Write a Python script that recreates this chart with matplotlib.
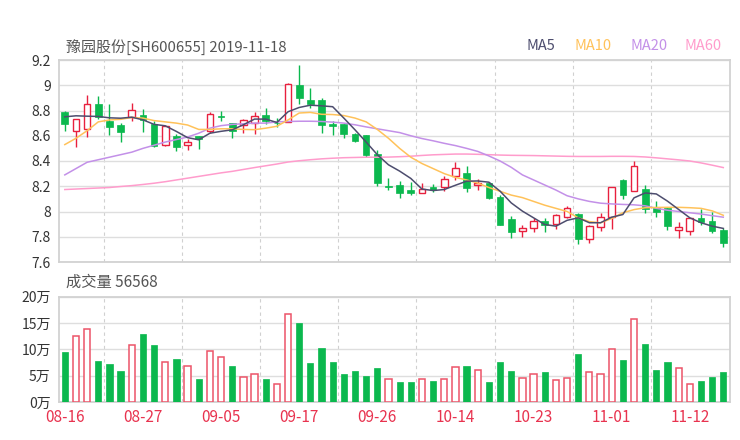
import matplotlib
matplotlib.use("Agg")
import matplotlib.pyplot as plt

plt.rcParams['font.family'] = ['Noto Sans CJK SC', 'DejaVu Sans']

title = "豫园股份[SH600655] 2019-11-18"
vol_title = "成交量 56568"

# 60 trading days, labels every 7th bar
tick_labels = ["08-16", "08-27", "09-05", "09-17", "09-26", "10-14", "10-23", "11-01", "11-12"]

opens = [8.792, 8.639, 8.65, 8.853, 8.713, 8.682, 8.747, 8.763, 8.695, 8.529,
         8.595, 8.529, 8.60, 8.639, 8.751, 8.70, 8.684, 8.70, 8.763, 8.70,
         8.705, 9.0, 8.884, 8.884, 8.695, 8.695, 8.616, 8.605, 8.455, 8.198,
         8.213, 8.174, 8.147, 8.192, 8.197, 8.279, 8.303, 8.21, 8.224, 8.113,
         7.937, 7.845, 7.871, 7.924, 7.903, 7.958, 7.982, 7.779, 7.879, 7.958,
         8.25, 8.166, 8.182, 8.034, 8.026, 7.855, 7.845, 7.945, 7.924, 7.85]
highs = [8.80, 8.735, 8.924, 8.911, 8.85, 8.70, 8.861, 8.813, 8.718, 8.676,
         8.616, 8.574, 8.60, 8.787, 8.80, 8.703, 8.734, 8.792, 8.818, 8.744,
         9.018, 9.16, 8.98, 8.897, 8.718, 8.695, 8.62, 8.605, 8.484, 8.264,
         8.245, 8.232, 8.226, 8.218, 8.279, 8.389, 8.358, 8.255, 8.232, 8.134,
         7.968, 7.897, 7.95, 7.95, 7.982, 8.042, 7.989, 7.897, 7.987, 8.197,
         8.26, 8.403, 8.208, 8.082, 8.037, 7.918, 7.95, 8.016, 7.997, 7.866]
lows = [8.639, 8.511, 8.589, 8.729, 8.608, 8.553, 8.713, 8.629, 8.51, 8.521,
        8.482, 8.489, 8.497, 8.624, 8.713, 8.582, 8.624, 8.613, 8.695, 8.672,
        8.705, 8.85, 8.818, 8.621, 8.603, 8.582, 8.55, 8.429, 8.20, 8.172,
        8.103, 8.134, 8.147, 8.153, 8.16, 8.253, 8.153, 8.171, 8.10, 7.892,
        7.792, 7.797, 7.837, 7.839, 7.863, 7.95, 7.739, 7.75, 7.845, 7.863,
        8.10, 8.166, 7.989, 7.96, 7.853, 7.789, 7.81, 7.89, 7.832, 7.718]
closes = [8.697, 8.732, 8.85, 8.75, 8.666, 8.626, 8.80, 8.726, 8.516, 8.674,
          8.508, 8.55, 8.574, 8.771, 8.751, 8.639, 8.727, 8.76, 8.718, 8.70,
          9.01, 8.897, 8.853, 8.682, 8.679, 8.613, 8.555, 8.45, 8.226, 8.198,
          8.147, 8.15, 8.179, 8.171, 8.26, 8.342, 8.187, 8.225, 8.108, 7.897,
          7.839, 7.866, 7.924, 7.897, 7.971, 8.024, 7.779, 7.889, 7.958, 8.192,
          8.129, 8.361, 8.016, 7.997, 7.884, 7.874, 7.945, 7.918, 7.845, 7.747]
# volume in 万 (10k)
volumes = [9.4, 12.5, 13.8, 7.7, 7.2, 5.8, 10.9, 12.9, 10.9, 7.5,
           8.2, 6.8, 4.3, 9.7, 8.5, 6.8, 4.8, 5.4, 4.4, 3.4,
           16.6, 14.9, 7.3, 10.2, 7.6, 5.4, 5.8, 4.9, 6.4, 4.4,
           3.8, 3.8, 4.4, 4.0, 4.3, 6.6, 6.8, 6.0, 3.7, 7.6,
           5.8, 4.5, 5.4, 5.7, 4.2, 4.5, 9.05, 5.7, 5.3, 10.1,
           8.0, 15.7, 10.95, 6.0, 7.66, 6.4, 3.5, 3.9, 4.7, 5.66]

ma5 = [8.75, 8.758, 8.755, 8.753, 8.742, 8.739, 8.747, 8.726, 8.69, 8.679,
       8.634, 8.585, 8.568, 8.62, 8.635, 8.647, 8.687, 8.732, 8.732, 8.705,
       8.79, 8.824, 8.842, 8.837, 8.83, 8.74, 8.647, 8.55, 8.45, 8.37,
       8.32, 8.262, 8.178, 8.166, 8.174, 8.208, 8.24, 8.242, 8.232, 8.161,
       8.068, 8.003, 7.95, 7.897, 7.884, 7.93, 7.95, 7.911, 7.911, 7.955,
       7.976, 8.108, 8.147, 8.139, 8.082, 8.016, 7.95, 7.911, 7.884, 7.866]
ma10 = [8.53, 8.58, 8.64, 8.71, 8.725, 8.73, 8.745, 8.74, 8.72, 8.71,
        8.70, 8.685, 8.65, 8.65, 8.655, 8.655, 8.65, 8.648, 8.66, 8.675,
        8.725, 8.78, 8.785, 8.77, 8.768, 8.76, 8.74, 8.71, 8.65, 8.58,
        8.50, 8.43, 8.38, 8.34, 8.30, 8.27, 8.25, 8.225, 8.19, 8.16,
        8.13, 8.11, 8.08, 8.05, 8.025, 8.00, 7.95, 7.92, 7.91, 7.945,
        7.99, 8.015, 8.03, 8.032, 8.033, 8.033, 8.03, 8.025, 8.005, 7.97]
ma20 = [8.29, 8.34, 8.39, 8.41, 8.43, 8.45, 8.47, 8.50, 8.525, 8.55,
        8.57, 8.59, 8.62, 8.66, 8.68, 8.69, 8.695, 8.70, 8.70, 8.71,
        8.713, 8.715, 8.715, 8.713, 8.708, 8.70, 8.687, 8.67, 8.655, 8.64,
        8.625, 8.60, 8.578, 8.56, 8.54, 8.522, 8.50, 8.476, 8.44, 8.40,
        8.35, 8.29, 8.25, 8.21, 8.17, 8.125, 8.10, 8.08, 8.066, 8.06,
        8.056, 8.053, 8.045, 8.025, 8.01, 8.0, 7.99, 7.98, 7.967, 7.955]
ma60 = [8.174, 8.178, 8.182, 8.186, 8.190, 8.198, 8.205, 8.214, 8.224, 8.236,
        8.250, 8.264, 8.278, 8.292, 8.306, 8.318, 8.333, 8.348, 8.362, 8.376,
        8.392, 8.402, 8.410, 8.417, 8.422, 8.426, 8.428, 8.430, 8.430, 8.431,
        8.434, 8.438, 8.444, 8.449, 8.452, 8.455, 8.455, 8.453, 8.450, 8.447,
        8.445, 8.444, 8.443, 8.441, 8.439, 8.437, 8.436, 8.436, 8.436, 8.437,
        8.437, 8.436, 8.432, 8.425, 8.417, 8.409, 8.400, 8.385, 8.367, 8.348]

UP = "#e8203e"
UP_VOL = "#ec5468"
DOWN = "#0bb84e"
GRID = "#dedede"
FRAME = "#d2d2d2"
MA_COLORS = {"MA5": "#4d4d6e", "MA10": "#ffc25a", "MA20": "#c390e8", "MA60": "#ff9ccc"}

n = len(closes)
xs = list(range(n))
xmin, xmax = -0.52, 59.6

fig = plt.figure(figsize=(7.4, 4.4), dpi=100)
ax = fig.add_axes([59/740, 1-262/440, 671/740, 202/440])
axv = fig.add_axes([59/740, 1-402/440, 671/740, 105.5/440])

def style(a):
    for s in a.spines.values():
        s.set_color(FRAME)
        s.set_linewidth(1.3)
    a.tick_params(length=0, colors="#333333", labelsize=10, pad=6)
    a.set_xlim(xmin, xmax)
    a.set_axisbelow(True)
    a.yaxis.grid(True, color=GRID, lw=1)
    for k in range(8):
        a.axvline(3.5 + 7*k, color="#d0d0d0", lw=0.8, ls=(0, (3, 3)), zorder=0)

# candles
style(ax)
w = 0.6
for i in xs:
    o, h, l, c = opens[i], highs[i], lows[i], closes[i]
    up = c > o
    col = UP if up else DOWN
    ax.vlines(i, l, h, color=col, lw=1.0, zorder=2)
    bot = min(o, c)
    hgt = max(abs(c - o), 0.004)
    if up:
        ax.bar(i, hgt, w, bottom=bot, facecolor="white", edgecolor=col, lw=1.0, zorder=3)
    else:
        ax.bar(i, hgt, w, bottom=bot - (0.002 if c == o else 0), facecolor=col,
               edgecolor=col, lw=0.5, zorder=3)

for name, vals in [("MA60", ma60), ("MA20", ma20), ("MA10", ma10), ("MA5", ma5)]:
    ax.plot(xs, vals, color=MA_COLORS[name], lw=1.1, zorder=4)

ax.set_ylim(7.6, 9.2)
ax.set_yticks([7.6, 7.8, 8.0, 8.2, 8.4, 8.6, 8.8, 9.0, 9.2])
ax.set_yticklabels(["7.6", "7.8", "8", "8.2", "8.4", "8.6", "8.8", "9", "9.2"])
ax.set_xticks([])

fig.text(66/740, 1-47/440, title, fontsize=10.8, color="#555555", va="center", ha="left")
legend_x = [527, 575, 630, 685]
for lx, name in zip(legend_x, MA_COLORS):
    fig.text(lx/740, 1-46/440, name, fontsize=10.5, color=MA_COLORS[name], va="center", ha="left")

# volume
style(axv)
for i in xs:
    if closes[i] >= opens[i]:
        axv.bar(i, volumes[i], 0.56, facecolor="white", edgecolor=UP_VOL, lw=1.1, zorder=3)
    else:
        axv.bar(i, volumes[i], 0.56, facecolor=DOWN, edgecolor=DOWN, lw=0.5, zorder=3)
axv.set_ylim(0, 20)
axv.set_yticks([0, 5, 10, 15, 20])
axv.set_yticklabels(["0万", "5万", "10万", "15万", "20万"])
axv.set_xticks(list(range(0, n, 7)))
axv.set_xticklabels(tick_labels, color="#e8334f", fontsize=11)
axv.tick_params(axis="x", pad=5)

fig.text(66/740, 1-282/440, vol_title, fontsize=11, color="#555555", va="center", ha="left")

fig.savefig("out.png", dpi=100)
